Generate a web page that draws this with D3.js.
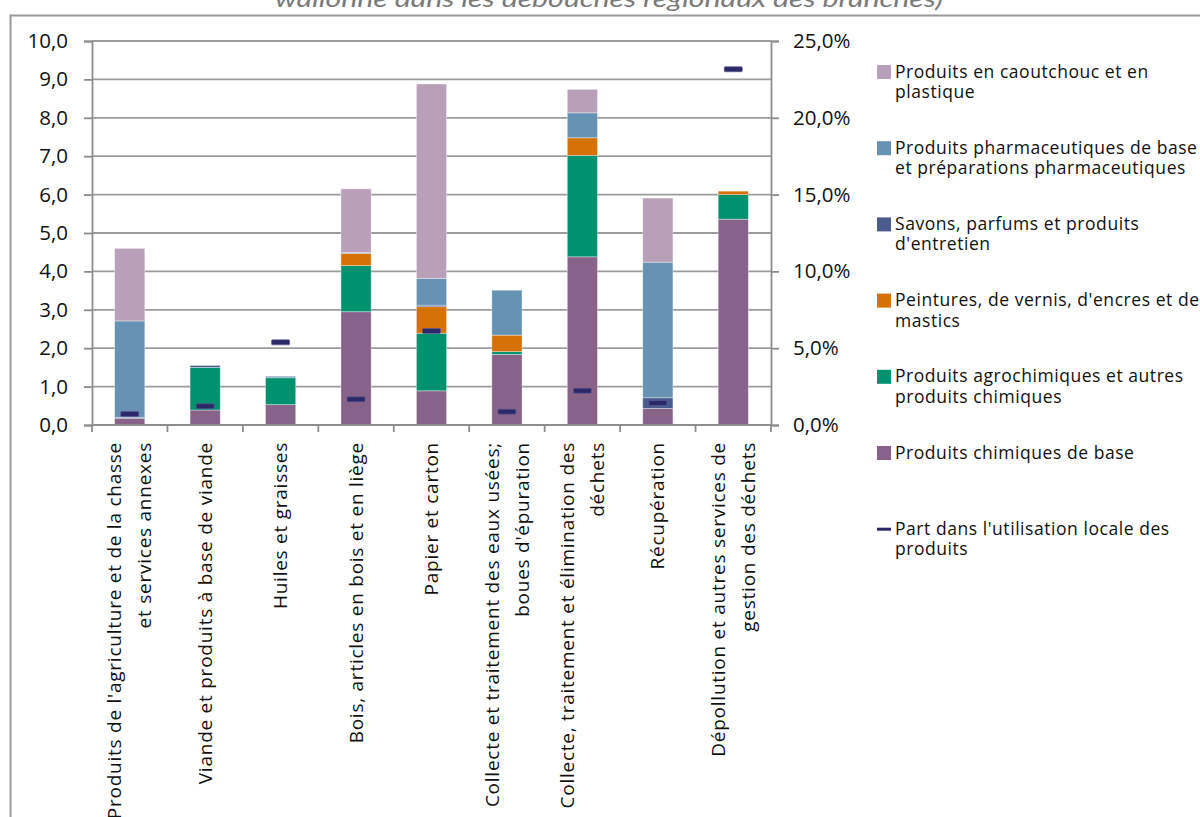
<!DOCTYPE html>
<html><head><meta charset="utf-8">
<script src="https://cdn.jsdelivr.net/npm/d3@7"></script>
<style>body{margin:0;background:#fff} svg{display:block}</style>
</head><body><svg id="c" width="1200" height="817"></svg>
<script>
// ---------- DATA ----------
const titleText = "wallonne dans les débouchés régionaux des branches)";
const categories = [
  "Produits de l'agriculture et de la chasse et services annexes",
  "Viande et produits à base de viande",
  "Huiles et graisses",
  "Bois, articles en bois et en liège",
  "Papier et carton",
  "Collecte et traitement des eaux usées; boues d'épuration",
  "Collecte, traitement et élimination des déchets",
  "Récupération",
  "Dépollution et autres services de gestion des déchets"
];
const categoryLines = [
  ["Produits de l'agriculture et de la chasse", "et services annexes"],
  ["Viande et produits à base de viande"],
  ["Huiles et graisses"],
  ["Bois, articles en bois et en liège"],
  ["Papier et carton"],
  ["Collecte et traitement des eaux usées;", "boues d'épuration"],
  ["Collecte, traitement et élimination des", "déchets"],
  ["Récupération"],
  ["Dépollution et autres services de", "gestion des déchets"]
];
// stacked series, bottom to top
const chimiquesBase   = [0.17, 0.39, 0.53, 2.95, 0.89, 1.84, 4.38, 0.43, 5.36];
const agrochimiques   = [0.00, 1.11, 0.70, 1.20, 1.50, 0.07, 2.64, 0.00, 0.64];
const peintures       = [0.00, 0.00, 0.00, 0.32, 0.69, 0.43, 0.46, 0.00, 0.09];
const savons          = [0.03, 0.05, 0.00, 0.00, 0.04, 0.00, 0.00, 0.28, 0.00];
const pharmaceutiques = [2.51, 0.00, 0.04, 0.02, 0.70, 1.17, 0.65, 3.53, 0.00];
const caoutchouc      = [1.89, 0.00, 0.00, 1.66, 5.06, 0.00, 0.61, 1.67, 0.00];
// share (%) on right axis
const partLocale      = [0.72, 1.22, 5.38, 1.67, 6.12, 0.87, 2.23, 1.43, 23.16];

const seriesKeys = ["chimiquesBase","agrochimiques","peintures","savons","pharmaceutiques","caoutchouc"];
const seriesColors = ["#876389","#00916F","#D57206","#4B5B8C","#6692B3","#B8A0B8"];
const legendLabels = [
  ["Produits en caoutchouc  et en", "plastique"],
  ["Produits pharmaceutiques de base", "et préparations pharmaceutiques"],
  ["Savons, parfums et produits", "d'entretien"],
  ["Peintures, de vernis, d'encres et de", "mastics"],
  ["Produits agrochimiques et autres", "produits chimiques"],
  ["Produits chimiques de base"],
  ["Part dans l'utilisation locale des", "produits"]
];
const legendColors = ["#B8A0B8","#6692B3","#4B5B8C","#D57206","#00916F","#876389","#2B2868"];
const leftTicks = [0,1,2,3,4,5,6,7,8,9,10];
const rightTicks = [0,5,10,15,20,25];

// ---------- CHART ----------
const FONT = "'Open Sans', 'DejaVu Sans', sans-serif";
const svg = d3.select("#c");
const axisColor = "#8e8e8e";

// title (cut off at top) and frame
svg.append("text").attr("x", 609).attr("y", 7).attr("text-anchor","middle")
  .attr("font-family","Lato, 'Open Sans', sans-serif").attr("font-style","italic")
  .attr("font-size", 23).attr("fill","#7a7a7a")
  .attr("textLength", 668).attr("lengthAdjust","spacingAndGlyphs").text(titleText);
svg.append("rect").attr("x",10.5).attr("y",15.5).attr("width",1250).attr("height",900)
  .attr("fill","none").attr("stroke","#9a9a9a").attr("stroke-width",2);

const x = d3.scaleBand().domain(categories).range([92, 771]).paddingInner(0.6).paddingOuter(0.3);
const y = d3.scaleLinear().domain([0,10]).range([425, 41]);
const yR = d3.scaleLinear().domain([0,25]).range([425, 41]);

// gridlines
svg.append("g").selectAll("line").data(leftTicks.filter(d=>d>0)).join("line")
  .attr("x1", 92).attr("x2", 771).attr("y1", d=>y(d)).attr("y2", d=>y(d))
  .attr("stroke", "#9c9c9c").attr("stroke-width", 1.8);

// stacked bars
const table = categories.map((c,i)=>({
  cat: c, chimiquesBase: chimiquesBase[i], agrochimiques: agrochimiques[i], peintures: peintures[i],
  savons: savons[i], pharmaceutiques: pharmaceutiques[i], caoutchouc: caoutchouc[i]
}));
const stack = d3.stack().keys(seriesKeys)(table);
svg.append("g").selectAll("g").data(stack).join("g")
  .attr("fill", (d,i)=>seriesColors[i])
  .selectAll("rect").data(d=>d.filter(s=>s[1]-s[0]>0)).join("rect")
  .attr("x", d=>x(d.data.cat)).attr("width", x.bandwidth())
  .attr("y", d=>y(d[1])).attr("height", d=>y(d[0])-y(d[1]))
  .attr("stroke","rgba(255,255,255,0.45)").attr("stroke-width",0.8);

// axes
const fmt1 = d3.format(".1f");
const gL = svg.append("g").attr("transform","translate(92,0)")
  .call(d3.axisLeft(y).tickValues(leftTicks).tickSize(8).tickPadding(16)
    .tickFormat(d=>fmt1(d).replace(".",",")));
const gR = svg.append("g").attr("transform","translate(771,0)")
  .call(d3.axisRight(yR).tickValues(rightTicks).tickSize(8).tickPadding(14)
    .tickFormat(d=>fmt1(d).replace(".",",")+"%"));
[gL,gR].forEach(g=>{
  g.select(".domain").attr("stroke",axisColor).attr("stroke-width",1.8);
  g.selectAll(".tick line").attr("stroke",axisColor).attr("stroke-width",1.8);
  g.selectAll("text").attr("font-family",FONT).attr("font-size",20.5).attr("fill","#111");
});

// x axis line and boundary ticks
svg.append("line").attr("x1",92).attr("x2",771).attr("y1",425).attr("y2",425)
  .attr("stroke",axisColor).attr("stroke-width",1.8);
const bounds = categories.map(c=>x(c)+x.bandwidth()/2-x.step()/2).concat([771]);
svg.append("g").selectAll("line").data(bounds).join("line")
  .attr("x1",d=>d).attr("x2",d=>d).attr("y1",425).attr("y2",432)
  .attr("stroke",axisColor).attr("stroke-width",1.8);

// category labels (rotated)
const lab = svg.append("g").selectAll("g").data(categories).join("g")
  .attr("transform", c=>`translate(${x(c)+x.bandwidth()/2},442) rotate(-90)`);
lab.each(function(c,i){
  const lines = categoryLines[i];
  const n = lines.length, sp = 30;
  d3.select(this).selectAll("text").data(lines).join("text")
    .attr("x",0).attr("y",(d,j)=>(j-(n-1)/2)*sp)
    .attr("dy","0.35em").attr("text-anchor","end")
    .attr("font-family",FONT).attr("font-size",19).attr("letter-spacing",0.75)
    .attr("fill","#111").text(d=>d);
});

// share markers
svg.append("g").selectAll("rect").data(categories).join("rect")
  .attr("x", c=>x(c)+x.bandwidth()/2-9).attr("width",18)
  .attr("y", (c,i)=>yR(partLocale[i])-2.5).attr("height",5).attr("rx",1)
  .attr("fill","#2B2868").attr("stroke","#5d5a95").attr("stroke-width",0.7);

// legend
const leg = svg.append("g").selectAll("g").data(legendLabels).join("g")
  .attr("transform",(d,i)=>`translate(877,${72+i*76.2})`);
leg.each(function(lines,i){
  const g = d3.select(this);
  if (i < 6) {
    g.append("rect").attr("x",0).attr("y",-7).attr("width",14).attr("height",14).attr("fill",legendColors[i]);
  } else {
    g.append("rect").attr("x",0).attr("y",-1.5).attr("width",14).attr("height",3).attr("fill",legendColors[i]);
  }
  g.selectAll("text").data(lines).join("text")
    .attr("x",18).attr("y",(d,j)=>5.5+j*20.5)
    .attr("font-family",FONT).attr("font-size",17.5).attr("letter-spacing",0.55)
    .attr("fill","#111").text(d=>d);
});
</script></body></html>
